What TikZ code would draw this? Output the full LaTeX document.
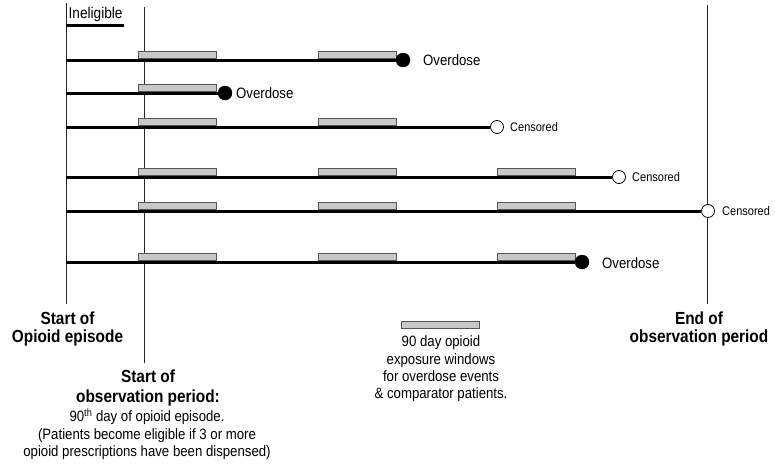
\documentclass[tikz,border=0pt]{standalone}
\usepackage{fontspec}
\setmainfont{Liberation Sans}[FakeStretch=0.88]
\definecolor{winfill}{HTML}{C8C8C8}
\definecolor{windraw}{HTML}{555555}
\begin{document}
\begin{tikzpicture}[x=1pt,y=-1pt,
  tl/.style={line width=3pt,black},
  vline/.style={line width=0.9pt,black!85},
  win/.style={draw=windraw,fill=winfill,line width=0.9pt,minimum width=78pt,minimum height=7.5pt,inner sep=0pt,outer sep=0pt,anchor=south west},
  odot/.style={circle,fill=black,draw=black,inner sep=0pt,minimum size=14pt},
  cdot/.style={circle,fill=white,draw=black,line width=0.8pt,inner sep=0pt,minimum size=13pt},
  lbl/.style={inner sep=0pt,anchor=west,font=\fontsize{15}{17.5}\selectfont},
  clbl/.style={inner sep=0pt,anchor=west,font=\fontsize{12.5}{15}\selectfont},
  head/.style={inner sep=0pt,align=center,font=\fontsize{17.5}{18}\selectfont\bfseries},
  body/.style={inner sep=0pt,align=center,font=\fontsize{15}{17.4}\selectfont}
]
\useasboundingbox (0,0) rectangle (775,466);

% vertical reference lines and their labels
\coordinate (ept) at (66,3);
\coordinate (epb) at (66,304);
\coordinate (obt) at (144,7);
\coordinate (obb) at (144,363);
\coordinate (ent) at (707,5);
\coordinate (enb) at (707,304);
\draw[vline] (ept) -- (epb);
\draw[vline] (obt) -- (obb);
\draw[vline] (ent) -- (enb);

\node[head] (lep) at (67.5,329) {Start of\\Opioid episode};
\node[head,font=\fontsize{17.5}{20}\selectfont\bfseries] (lob) at (148,388) {Start of\\observation period:};
\node[body] (lobtxt) at (147,434.5) {90\textsuperscript{th} day of opioid episode.\\(Patients become eligible if 3 or more\\opioid prescriptions have been dispensed)};
\node[head] (len) at (699,329) {End of\\observation period};

% ineligible
\node[lbl,font=\fontsize{15.5}{17.5}\selectfont] (inel) at (68.5,14) {Ineligible};
\coordinate (ins) at (66,25);
\coordinate (ine) at (124,25);
\draw[tl] (ins) -- (ine);

% row 1
\coordinate (r1s) at (66,60);
\node[win] (r1w1) at (138,58.5) {};
\node[win] (r1w2) at (318,58.5) {};
\node[odot] (r1e) at (403,60) {};
\draw[tl] (r1s) -- (r1e);
\node[lbl] (r1l) at (423,60) {Overdose};

% row 2
\coordinate (r2s) at (66,93);
\node[win] (r2w1) at (138,91.5) {};
\node[odot] (r2e) at (225,93) {};
\draw[tl] (r2s) -- (r2e);
\node[lbl] (r2l) at (236,93) {Overdose};

% row 3
\coordinate (r3s) at (66,127);
\node[win] (r3w1) at (138,125.5) {};
\node[win] (r3w2) at (318,125.5) {};
\node[cdot] (r3e) at (497,127) {};
\draw[tl] (r3s) -- (r3e);
\node[clbl] (r3l) at (510,127) {Censored};

% row 4
\coordinate (r4s) at (66,177);
\node[win] (r4w1) at (138,175.5) {};
\node[win] (r4w2) at (318,175.5) {};
\node[win] (r4w3) at (497,175.5) {};
\node[cdot] (r4e) at (619,177) {};
\draw[tl] (r4s) -- (r4e);
\node[clbl] (r4l) at (632,177) {Censored};

% row 5
\coordinate (r5s) at (66,211);
\node[win] (r5w1) at (138,209.5) {};
\node[win] (r5w2) at (318,209.5) {};
\node[win] (r5w3) at (497,209.5) {};
\node[cdot] (r5e) at (708,211) {};
\draw[tl] (r5s) -- (r5e);
\node[clbl] (r5l) at (722,211) {Censored};

% row 6
\coordinate (r6s) at (66,262);
\node[win] (r6w1) at (138,260.5) {};
\node[win] (r6w2) at (318,260.5) {};
\node[win] (r6w3) at (497,260.5) {};
\node[odot] (r6e) at (582,262) {};
\draw[tl] (r6s) -- (r6e);
\node[lbl] (r6l) at (602,263) {Overdose};

% legend
\node[win,anchor=center] (leg) at (440,325) {};
\node[body] (legtxt) at (441,369) {90 day opioid\\exposure windows\\for overdose events\\\& comparator patients.};
\end{tikzpicture}
\end{document}
